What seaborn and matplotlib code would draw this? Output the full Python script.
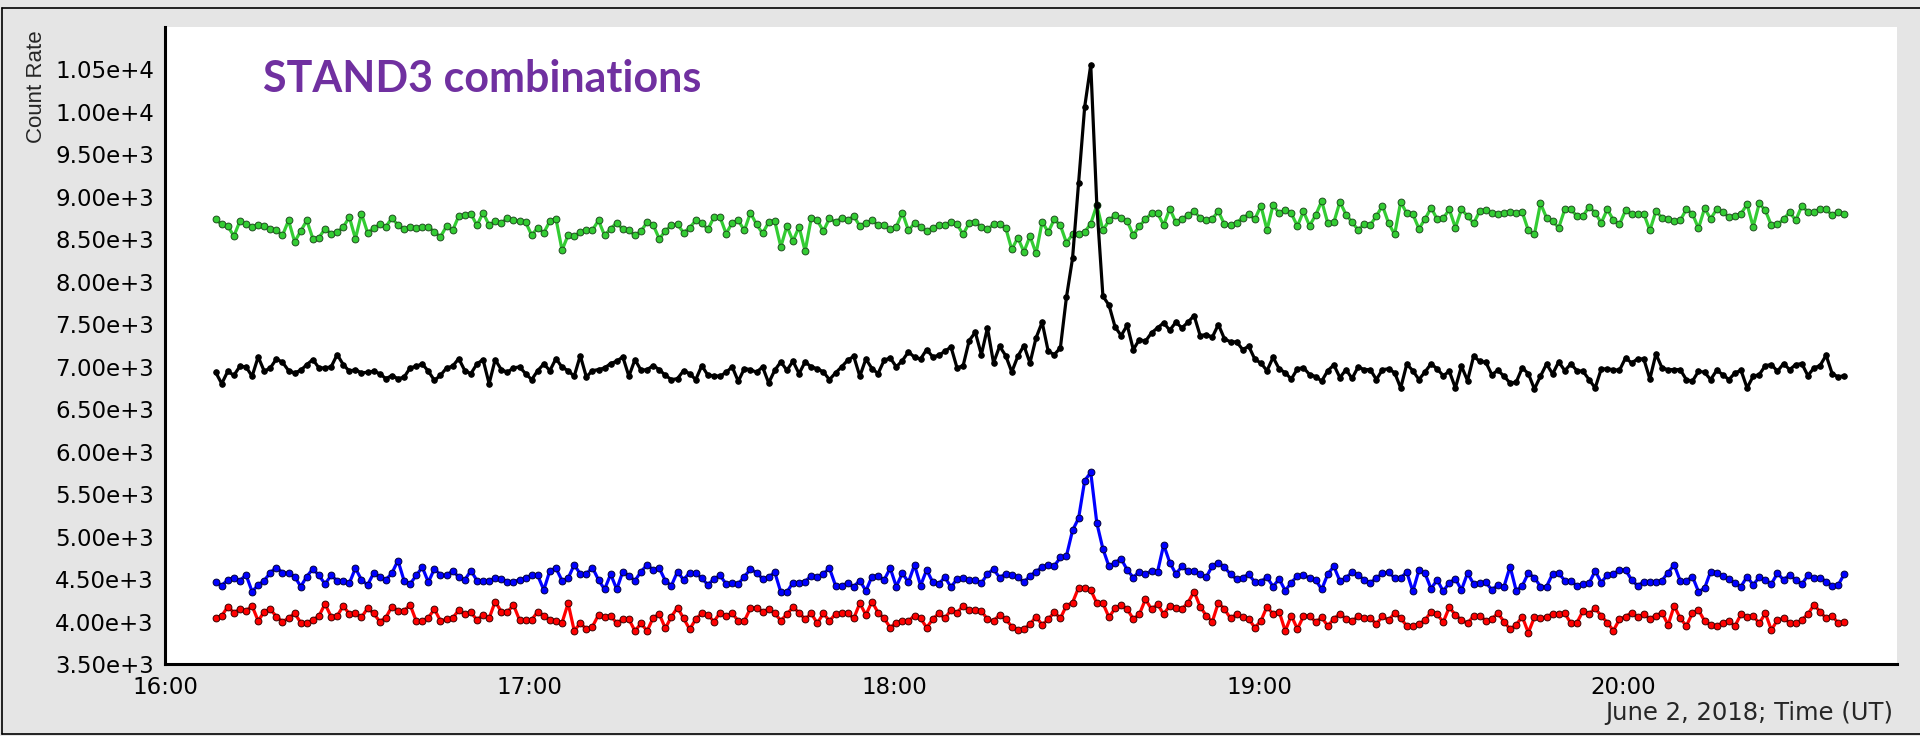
import numpy as np
import pandas as pd
import matplotlib
matplotlib.use("Agg")
import matplotlib.pyplot as plt
import matplotlib.dates as mdates
from matplotlib.ticker import MultipleLocator, FixedLocator, FuncFormatter
from matplotlib.lines import Line2D
import seaborn as sns

# ---------------- data ----------------
START_TIME = "2018-06-02 16:08:20"
CADENCE = "1min"
X_START = "2018-06-02 16:00"
X_END = "2018-06-02 20:45"
Y_MIN, Y_MAX = 3500, 11000
Y_TICKS = list(range(3500, 10501, 500))

TITLE = "STAND3 combinations"
Y_LABEL = "Count Rate"
X_LABEL = "June 2, 2018; Time (UT)"

green_rate = [
    8735, 8676, 8656, 8538, 8715, 8676, 8648, 8664, 8656, 8625,
    8605, 8546, 8723, 8471, 8597, 8723, 8507, 8519, 8625, 8566,
    8585, 8644, 8762, 8507, 8802, 8578, 8629, 8676, 8648, 8750,
    8668, 8617, 8644, 8636, 8644, 8648, 8585, 8530, 8656, 8605,
    8774, 8782, 8802, 8664, 8813, 8668, 8711, 8688, 8754, 8723,
    8715, 8703, 8550, 8636, 8578, 8715, 8743, 8373, 8550, 8538,
    8585, 8605, 8609, 8723, 8546, 8625, 8695, 8617,
    8605, 8546, 8597, 8703, 8668, 8507, 8597, 8668, 8676, 8578,
    8636, 8723, 8695, 8617, 8762, 8762, 8566, 8695, 8723, 8605,
    8813, 8676, 8570, 8703, 8715, 8412, 8656, 8479, 8648, 8361,
    8746, 8723, 8597, 8746, 8703, 8754, 8723, 8774, 8656, 8695,
    8723, 8668, 8664, 8617, 8648, 8813, 8605, 8688, 8644, 8597,
    8636, 8664, 8664, 8703, 8676, 8558, 8695, 8703, 8644, 8617,
    8676, 8676, 8636, 8381, 8519, 8353, 8538, 8334,
    8707, 8585, 8735, 8664, 8460, 8558, 8558, 8585, 8684, 8904,
    8605, 8723, 8786, 8754, 8715, 8550, 8656, 8735, 8806, 8806,
    8668, 8861, 8703, 8743, 8782, 8829, 8754, 8723, 8743, 8829,
    8676, 8668, 8696, 8754, 8794,
    8738, 8896, 8611, 8905, 8805, 8851, 8805, 8656, 8828, 8661,
    8783, 8950, 8692, 8701, 8941, 8792, 8701, 8611, 8679, 8670,
    8774, 8896, 8692, 8557, 8941, 8805, 8796, 8625, 8738, 8873,
    8738, 8747,
    8853, 8636, 8853, 8774, 8688, 8833, 8841, 8813, 8802, 8813,
    8825, 8813, 8821, 8605, 8558, 8923, 8754, 8715, 8636, 8853,
    8853, 8774, 8774, 8884, 8813, 8695, 8853, 8727, 8676, 8841,
    8794, 8794, 8802, 8605, 8833, 8754, 8735, 8715, 8723, 8853,
    8802, 8629, 8864, 8743, 8853, 8821, 8762, 8774, 8802, 8912,
    8648, 8923, 8841, 8664, 8676, 8735, 8821, 8723, 8892, 8825,
    8821, 8860, 8853, 8782, 8821, 8794,
]

black_rate = [
    6935, 6801, 6947, 6899, 7006, 6998, 6888, 7116, 6947, 6986,
    7092, 7053, 6954, 6927, 6958, 7025, 7084, 6986, 6986, 6998,
    7143, 7025, 6947, 6966, 6927, 6935, 6947, 6919, 6860, 6895,
    6860, 6876, 6986, 7006, 7033, 6947, 6840, 6899, 6986, 7006,
    7096, 6954, 6919, 7033, 7084, 6801, 7084, 6966, 6935, 6986,
    6998, 6919, 6848, 6954, 7033, 6954, 7096, 6994, 6954, 6888,
    7131, 6880, 6954, 6966, 6986, 7037, 7065, 7116,
    6888, 7084, 6958, 6966, 7013, 6966, 6899, 6848, 6860, 6954,
    6919, 6848, 7013, 6899, 6895, 6888, 6935, 6998, 6829, 6978,
    6966, 6935, 6998, 6809, 6958, 7057, 6958, 7065, 6919, 7057,
    6998, 6978, 6939, 6848, 6927, 6998, 7076, 7123, 6888, 7092,
    6978, 6919, 7076, 7104, 6998, 7072, 7175, 7112, 7092, 7202,
    7116, 7135, 7182, 7233, 6986, 7013, 7308, 7406, 7143, 7457,
    7045, 7241, 7131, 6939, 7123, 7249, 7045, 7340,
    7524, 7182, 7143, 7222, 7819, 8275, 9167, 10059, 10554, 8900,
    7831, 7725, 7469, 7367, 7489, 7202, 7320, 7300, 7399, 7458,
    7517, 7430, 7524, 7458, 7524, 7603, 7367, 7379, 7348, 7497,
    7328, 7293, 7293, 7202, 7241,
    7088, 7043, 6953, 7111, 6975, 6930, 6854, 6975, 6989, 6908,
    6885, 6831, 6953, 7021, 6872, 6966, 6862, 6998, 6966, 6966,
    6849, 6966, 6975, 6930, 6750, 7030, 6953, 6849, 6939, 7034,
    6975, 6894,
    6947, 6750, 7006, 6837, 7123, 7064, 7053, 6907, 6958, 6888,
    6809, 6817, 6986, 6919, 6738, 6888, 7033, 6915, 7057, 6954,
    7033, 6954, 6947, 6848, 6750, 6974, 6974, 6966, 6958, 7104,
    7045, 7092, 7092, 6856, 7151, 6986, 6966, 6966, 6966, 6848,
    6829, 6947, 6935, 6848, 6958, 6907, 6848, 6927, 6958, 6750,
    6888, 6907, 7013, 7025, 6947, 7037, 6966, 7025, 7037, 6895,
    6986, 7013, 7135, 6919, 6880, 6895,
]

blue_rate = [
    4471, 4424, 4490, 4518, 4482, 4549, 4353, 4431, 4482, 4577,
    4636, 4577, 4569, 4530, 4412, 4530, 4620, 4542, 4443, 4542,
    4482, 4482, 4451, 4628, 4490, 4431, 4569, 4530, 4490, 4569,
    4718, 4482, 4443, 4542, 4640, 4463, 4620, 4549, 4542, 4600,
    4522, 4490, 4600, 4482, 4482, 4482, 4510, 4502, 4471, 4471,
    4490, 4510, 4549, 4542, 4372, 4600, 4628, 4482, 4510, 4667,
    4561, 4561, 4636, 4490, 4380, 4557, 4380, 4588,
    4538, 4482, 4588, 4667, 4608, 4628, 4479, 4424, 4588, 4490,
    4577, 4569, 4510, 4431, 4502, 4542, 4443, 4451, 4443, 4530,
    4616, 4577, 4502, 4522, 4581, 4345, 4345, 4459, 4459, 4471,
    4538, 4530, 4561, 4628, 4424, 4424, 4451, 4412, 4482, 4361,
    4530, 4538, 4490, 4628, 4412, 4569, 4463, 4667, 4424, 4608,
    4463, 4443, 4522, 4404, 4502, 4510, 4490, 4490, 4451, 4561,
    4616, 4518,
    4561, 4549, 4522, 4463, 4537, 4589, 4640, 4667, 4655, 4754,
    4773, 5072, 5217, 5658, 5756, 5158, 4856, 4648, 4695, 4738,
    4608, 4518, 4589, 4561, 4596, 4589, 4903, 4695, 4561, 4648,
    4596, 4596, 4557, 4522, 4655, 4695, 4640, 4557, 4498, 4518,
    4557, 4463, 4471, 4522, 4412, 4502, 4364, 4459, 4537,
    4545, 4513, 4491, 4378, 4558, 4649, 4477, 4513, 4581, 4545,
    4491, 4455, 4513, 4567, 4581, 4513, 4513, 4581, 4355, 4603,
    4567, 4387, 4491, 4355,
    4459, 4502, 4372, 4569, 4443, 4451, 4463, 4372, 4431, 4412,
    4647, 4365, 4420, 4569, 4518, 4412, 4412, 4561, 4569, 4482,
    4479, 4420, 4439, 4451, 4596, 4459, 4549, 4561, 4608, 4608,
    4490, 4420, 4471, 4471, 4471, 4482, 4577, 4667, 4479, 4479,
    4530, 4353, 4392, 4588, 4577, 4538, 4498, 4451, 4412, 4530,
    4431, 4522, 4490, 4443, 4569, 4490, 4549, 4490, 4439, 4542,
    4510, 4518, 4471, 4424, 4431, 4561,
]

red_rate = [
    4046, 4066, 4176, 4105, 4145, 4125, 4184, 4007, 4117, 4145,
    4058, 3999, 4038, 4097, 3987, 3979, 4019, 4066, 4207, 4058,
    4066, 4184, 4089, 4097, 4050, 4156, 4097, 3999, 4046, 4176,
    4129, 4125, 4196, 4007, 4007, 4046, 4145, 4007, 4027, 4038,
    4137, 4086, 4109, 4019, 4078, 4038, 4235, 4117, 4109, 4196,
    4019, 4019, 4019, 4117, 4070, 4019, 4011, 3987, 4215, 3893,
    3979, 3913, 3940, 4078, 4058, 4070, 3979, 4027,
    4027, 3889, 3979, 3889, 4046, 4086, 3921, 4058, 4164, 4038,
    3909, 4027, 4097, 4078, 3999, 4105, 4066, 4097, 4007, 4007,
    4156, 4164, 4117, 4145, 4097, 4011, 4086, 4168, 4105, 4027,
    4097, 3979, 4097, 4007, 4089, 4097, 4097, 4038, 4215, 4078,
    4235, 4105, 4038, 3928, 3987, 4007, 4007, 4070, 4038, 3928,
    4027, 4097, 4038, 4137, 4105, 4184, 4137, 4137, 4125, 4027,
    4007, 4078,
    4030, 3940, 3901, 3913, 3968, 4058, 3960, 4027, 4109, 4038,
    4188, 4223, 4400, 4400, 4372, 4215, 4215, 4050, 4156, 4196,
    4145, 4030, 4086, 4262, 4145, 4203, 4086, 4188, 4164, 4145,
    4223, 4353, 4176, 4070, 3999, 4223, 4145, 4038, 4086, 4050,
    4030, 3928, 4007, 4176, 4086, 4117, 3889, 4070, 3913,
    4061, 4070, 3994, 4048, 3948, 4030, 4093, 4030, 4007, 4061,
    4039, 4039, 3971, 4061, 4016, 4098, 4039, 3948, 3948, 3971,
    4016, 4116, 4084, 3994,
    4168, 4078, 4019, 3979, 4066, 4070, 4011, 4031, 4097, 3999,
    3909, 3960, 4058, 3869, 4050, 4038, 4058, 4089, 4089, 4097,
    3979, 3987, 4125, 4089, 4156, 4066, 3987, 3893, 4027, 4058,
    4105, 4050, 4089, 4031, 4070, 4105, 3960, 4184, 4038, 3948,
    4097, 4137, 4007, 3960, 3948, 3987, 4007, 3948, 4086, 4058,
    4066, 3979, 4097, 3901, 4019, 4038, 3987, 3979, 4019, 4086,
    4196, 4117, 4038, 4070, 3979, 3999,
]

# ---------------- styling ----------------
W, H = 1920, 736
BG = "#e5e5e5"

sns.set_style("white")
plt.rcParams["font.family"] = ["DejaVu Sans"]

fig = plt.figure(figsize=(W / 100, H / 100), dpi=100, facecolor=BG)
ax = fig.add_axes([165 / W, 1 - 664 / H, (1897 - 165) / W, (664 - 27) / H])
ax.set_facecolor("white")

series = [
    (green_rate, "#33cc33", "#1f4f1f", 4.9),
    (black_rate, "#000000", "#000000", 4.0),
    (blue_rate, "#0000ff", "#00003a", 4.9),
    (red_rate, "#ff0000", "#3a0000", 4.9),
]
for vals, col, edge, ms in series:
    t = pd.date_range(START_TIME, periods=len(vals), freq=CADENCE)
    df = pd.DataFrame({"time": t, "rate": vals})
    sns.lineplot(data=df, x="time", y="rate", ax=ax, color=col, lw=2.3,
                 marker="o", markersize=ms, markerfacecolor=col,
                 markeredgecolor=edge, markeredgewidth=0.7,
                 estimator=None, sort=False, legend=False)

ax.set_xlim(pd.Timestamp(X_START), pd.Timestamp(X_END))
ax.set_ylim(Y_MIN, Y_MAX)

# y axis
ax.yaxis.set_major_locator(FixedLocator(Y_TICKS))
ax.yaxis.set_minor_locator(MultipleLocator(100))
ax.yaxis.set_major_formatter(FuncFormatter(lambda v, _: f"{v:.2e}".replace("e+0", "e+")))
ax.tick_params(axis="y", which="major", direction="in", length=9.4, width=1.7,
               labelsize=16.5, pad=8, colors="black")
ax.tick_params(axis="y", which="minor", direction="in", length=5.6, width=1.7)

# x axis
ax.xaxis.set_major_locator(mdates.MinuteLocator(byminute=[0, 15, 30, 45]))
ax.xaxis.set_minor_locator(mdates.MinuteLocator(byminute=list(range(0, 60, 5))))


def xfmt(v, _):
    d = mdates.num2date(v)
    return d.strftime("%H:%M") if d.minute == 0 else ""


ax.xaxis.set_major_formatter(FuncFormatter(xfmt))
ax.tick_params(axis="x", which="major", direction="in", length=7.2, width=1.7,
               labelsize=16.5, pad=9, colors="black")
ax.tick_params(axis="x", which="minor", direction="in", length=2.4, width=1.7)

for s in ["top", "right"]:
    ax.spines[s].set_visible(False)
for s in ["left", "bottom"]:
    ax.spines[s].set_color("black")
    ax.spines[s].set_linewidth(2.2)

ax.set_xlabel("")
ax.set_ylabel("")
ax.grid(False)

# texts
fig.text(36 / W, 1 - 87 / H, Y_LABEL, rotation=90, fontsize=16,
         family=["Liberation Sans", "DejaVu Sans"], ha="center", va="center")
fig.text(1893 / W, 1 - 713 / H, X_LABEL, fontsize=17.5, ha="right", va="center")
fig.text(263 / W, 1 - 79 / H, TITLE, fontsize=31, fontweight="bold",
         color="#7030a0", family=["Lato", "DejaVu Sans"], ha="left", va="center")

# frame lines
for xs, ys in [([2, 2], [8, 734]), ([2, W], [8, 8]), ([2, W], [734, 734])]:
    fig.add_artist(Line2D([x / W for x in xs], [1 - y / H for y in ys],
                          transform=fig.transFigure, color="black", lw=1.2))

fig.savefig("out.png", dpi=100, facecolor=BG)
